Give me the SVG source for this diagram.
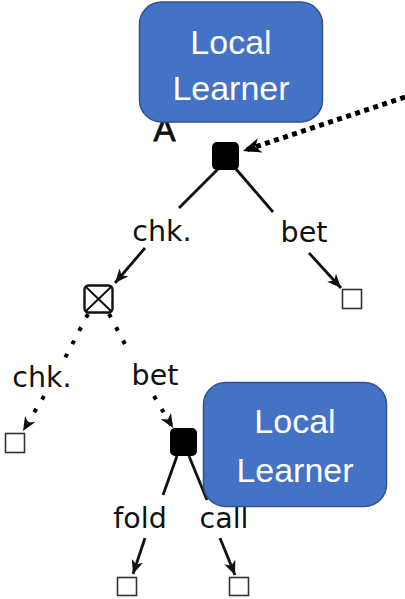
<svg xmlns="http://www.w3.org/2000/svg" width="405" height="599" viewBox="0 0 405 599">
  <style>
    .learner rect { fill: #4472C4; stroke: #2F528F; stroke-width: 1.5; }
    .learner text { fill: #ffffff; font-family: "Liberation Sans", Arial, sans-serif; font-size: 34px; text-anchor: middle; }
    .lbl { fill: #111; font-family: "DejaVu Sans", "Liberation Sans", sans-serif; font-size: 28.5px; text-anchor: middle; }
    .player { fill: #000; }
    .terminal { fill: #fff; stroke: #333; stroke-width: 1.6; }
    .chance rect { fill: #fff; stroke: #111; stroke-width: 2.4; }
    .chance line { stroke: #111; stroke-width: 2; }
    .edge { stroke: #111; stroke-width: 2.8; fill: none; }
    .dots { stroke: #000; stroke-width: 4; fill: none; stroke-dasharray: 4 11; }
    .dots-big { stroke: #000; stroke-width: 5; fill: none; stroke-dasharray: 5 4.5; }
  </style>
  <defs>
    <marker id="head" markerUnits="userSpaceOnUse" viewBox="0 0 14 12" markerWidth="14" markerHeight="12" refX="14" refY="6" orient="auto">
      <path d="M0,0 L14,6 L0,12 L4,6 Z" fill="#111"/>
    </marker>
    <marker id="head-big" markerUnits="userSpaceOnUse" viewBox="0 0 18 15" markerWidth="18" markerHeight="15" refX="18" refY="7.5" orient="auto">
      <path d="M0,0 L18,7.5 L0,15 L5,7.5 Z" fill="#000"/>
    </marker>
  </defs>

  <!-- player label beneath the top learner box -->
  <text id="player-A" x="164.5" y="141" style="fill:#111;stroke:#111;stroke-width:0.8;font-family:'Liberation Sans',Arial,sans-serif;font-size:33px;text-anchor:middle">A</text>

  <!-- connectors -->
  <g id="edges">
    <!-- incoming message to the root decision -->
    <path class="dots-big" d="M405,97 L243,151" marker-end="url(#head-big)"/>
    <!-- root: check -->
    <line class="edge" x1="218" y1="169" x2="179" y2="208"/>
    <path class="edge" d="M145,248 L115,283" marker-end="url(#head)"/>
    <!-- root: bet -->
    <line class="edge" x1="236" y1="169" x2="273" y2="212"/>
    <path class="edge" d="M309,253 L341,288" marker-end="url(#head)"/>
    <!-- chance node: check -->
    <line class="dots" x1="88" y1="314" x2="64" y2="360"/>
    <path class="dots" d="M44,396 L23,431" marker-end="url(#head)"/>
    <!-- chance node: bet -->
    <line class="dots" x1="109" y1="314" x2="126" y2="346"/>
    <path class="dots" d="M154,396 L173,428" marker-end="url(#head)"/>
    <!-- second decision: fold / call -->
    <line class="edge" x1="177" y1="456" x2="163" y2="495"/>
    <path class="edge" d="M145,538 L133,574" marker-end="url(#head)"/>
    <line class="edge" x1="189" y1="456" x2="207" y2="500"/>
    <path class="edge" d="M220,538 L235,575" marker-end="url(#head)"/>
  </g>

  <!-- edge labels -->
  <g id="labels">
    <text class="lbl" x="162" y="241">chk.</text>
    <text class="lbl" x="304" y="242">bet</text>
    <text class="lbl" x="42" y="387">chk.</text>
    <text class="lbl" x="155" y="385">bet</text>
    <text class="lbl" x="140" y="528">fold</text>
    <text class="lbl" x="224" y="528">call</text>
  </g>

  <!-- tree nodes -->
  <g id="root"><rect class="player" x="212" y="142" width="27" height="28" rx="5"/></g>
  <g id="chance" class="chance">
    <rect x="84.5" y="285.5" width="28" height="27" rx="4"/>
    <line x1="86" y1="287" x2="111" y2="311"/>
    <line x1="111" y1="287" x2="86" y2="311"/>
  </g>
  <g id="bet-terminal"><rect class="terminal" x="342.5" y="289.5" width="19" height="19"/></g>
  <g id="chk-terminal"><rect class="terminal" x="5.5" y="433.5" width="19" height="19"/></g>
  <g id="decision-2"><rect class="player" x="170" y="428" width="27" height="28" rx="5"/></g>
  <g id="fold-terminal"><rect class="terminal" x="117.5" y="577.5" width="19" height="18"/></g>
  <g id="call-terminal"><rect class="terminal" x="229.5" y="577.5" width="19" height="18"/></g>

  <!-- local learner callouts -->
  <g id="learner-top" class="learner">
    <rect x="139.5" y="2" width="183" height="120" rx="22"/>
    <text x="231" y="54">Local</text>
    <text x="231" y="100">Learner</text>
  </g>
  <g id="learner-bottom" class="learner">
    <rect x="203.5" y="382.5" width="183" height="124" rx="22"/>
    <text x="295" y="433">Local</text>
    <text x="295" y="482">Learner</text>
  </g>
</svg>
